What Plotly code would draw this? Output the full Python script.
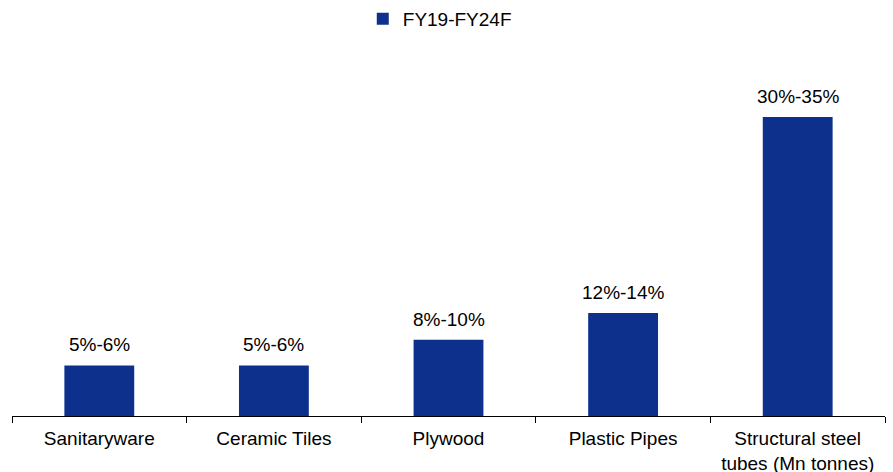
import plotly.graph_objects as go

categories = ["Sanitaryware", "Ceramic Tiles", "Plywood", "Plastic Pipes",
              "Structural steel<br>tubes (Mn tonnes)"]
values = [5.5, 5.5, 8.3, 11.2, 32.5]
labels = ["5%-6%", "5%-6%", "8%-10%", "12%-14%", "30%-35%"]
series_name = "FY19-FY24F"

FS = 19
fig = go.Figure()
fig.add_trace(go.Bar(
    x=categories, y=values, name=series_name,
    marker=dict(color="#0c308c", line=dict(width=0)),
    width=0.4,
))
for c, v, t in zip(categories, values, labels):
    fig.add_annotation(x=c, y=v, text=t, showarrow=False, yanchor="bottom",
                       yshift=8, font=dict(size=FS, color="#000000"))
fig.update_layout(
    width=893, height=472,
    margin=dict(l=12, r=8, t=48, b=56),
    paper_bgcolor="white", plot_bgcolor="white",
    font=dict(family="Liberation Sans, Arial, sans-serif", size=FS, color="#000000"),
    showlegend=True,
    legend=dict(orientation="h", x=0.49, xanchor="center", y=1.0, yanchor="top",
                yref="container", font=dict(size=FS), itemwidth=30),
    xaxis=dict(showline=True, linecolor="#000000", linewidth=1, automargin=False,
               ticks="outside", tickson="boundaries", ticklen=6, tickcolor="#000000",
               ticklabelstandoff=5, showgrid=False),
    yaxis=dict(range=[0, 40], visible=False, showgrid=False, zeroline=False,
               automargin=False),
)
fig.write_html("out.html")
